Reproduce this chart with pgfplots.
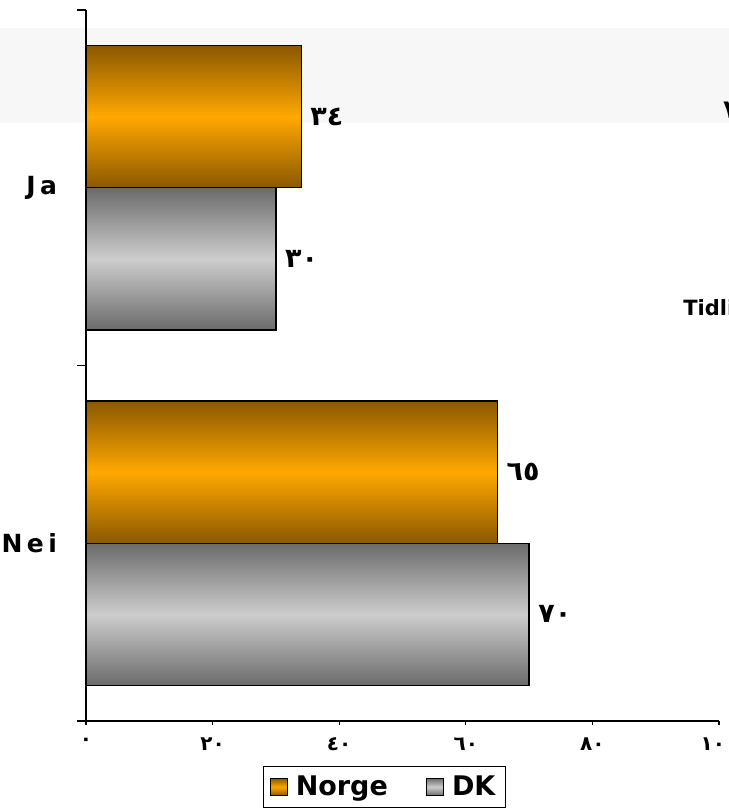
\documentclass[border=0pt]{standalone}
\usepackage{fontspec}
\setmainfont{DejaVu Sans}
\newfontfamily\catfont{DejaVu Sans}[LetterSpace=18]
\usepackage{pgfplots}
\pgfplotsset{compat=1.18}

\definecolor{orDark}{HTML}{8A5800}
\definecolor{orMid}{HTML}{FFA800}
\definecolor{grDark}{HTML}{6B6B6B}
\definecolor{grMid}{HTML}{CDCDCD}
\definecolor{band}{HTML}{F7F7F7}

\pgfplotsset{
  norge/.style={bar shift=0.2, draw=black, line width=0.6pt,
    top color=orDark, bottom color=orDark, middle color=orMid},
  dk/.style={bar shift=-0.2, draw=black, line width=0.6pt,
    top color=grDark, bottom color=grDark, middle color=grMid},
}

\begin{document}
\begin{tikzpicture}
\begin{axis}[
    set layers,
    width=316.5pt, height=355.5pt, scale only axis,
    xmin=0, xmax=100, ymin=-0.5, ymax=1.5,
    xbar, bar width=0.4,
    clip=false,
    axis x line*=bottom, axis y line*=left,
    axis line style={line width=0.6pt, -},
    tick align=outside,
    major tick length=4.5pt,
    tick style={line width=0.6pt, black},
    xtick=\empty,
    extra x ticks={0,20,40,60,80,100},
    extra x tick labels={٠,٢٠,٤٠,٦٠,٨٠,١٠٠},
    extra x tick style={major tick length=2pt,
        xticklabel style={font=\bfseries\fontsize{10}{11}\selectfont, yshift=-3pt}},
    ytick={-0.5,0.5,1.5}, yticklabels={},
    extra y ticks={0,1},
    extra y tick labels={Nei,Ja},
    extra y tick style={major tick length=0pt,
        yticklabel style={font=\catfont\bfseries\fontsize{12.5}{14}\selectfont, anchor=east, xshift=-11pt}},
    point meta=explicit symbolic,
    nodes near coords,
    nodes near coords style={font=\bfseries\fontsize{13.5}{15}\selectfont, anchor=west, xshift=1pt, black},
    legend columns=-1,
    area legend,
    legend image code/.code={\draw[#1, draw=black, line width=0.5pt] (0pt,-4.3pt) rectangle (8.6pt,4.3pt);},
    legend style={at={(axis description cs:0.2796,-0.0633)}, anchor=north west,
        draw=black, line width=0.6pt, font=\bfseries\fontsize{13.5}{15}\selectfont,
        inner xsep=3pt, inner ysep=2.5pt,
        /tikz/every odd column/.append style={column sep=2pt},
        /tikz/every even column/.append style={column sep=17pt}},
]
\begin{pgfonlayer}{axis background}
\fill[band] (axis description cs:-0.14,0.841) rectangle (axis description cs:1.02,0.9747);
\end{pgfonlayer}

\addplot[norge] coordinates {(34,1) [٣٤]};
\addlegendentry{Norge}
\addplot[dk] coordinates {(30,1) [٣٠]};
\addlegendentry{DK\hspace{4pt}}
\addplot[norge, forget plot] coordinates {(65,0) [٦٥]};
\addplot[dk, forget plot] coordinates {(70,0) [٧٠]};

\node[anchor=west, font=\bfseries\fontsize{10.5}{12}\selectfont, inner sep=0pt]
    at (axis description cs:0.943,0.578) {Tidligere};
\node[anchor=west, font=\bfseries\fontsize{13}{15}\selectfont, inner sep=0pt]
    at (axis description cs:1.006,0.859) {٧٠};

\coordinate (bbsw) at (axis description cs:-0.1359,-0.1224);
\coordinate (bbne) at (axis description cs:1.0158,1.0141);
\end{axis}
\pgfresetboundingbox
\useasboundingbox (bbsw) rectangle (bbne);
\end{tikzpicture}
\end{document}
